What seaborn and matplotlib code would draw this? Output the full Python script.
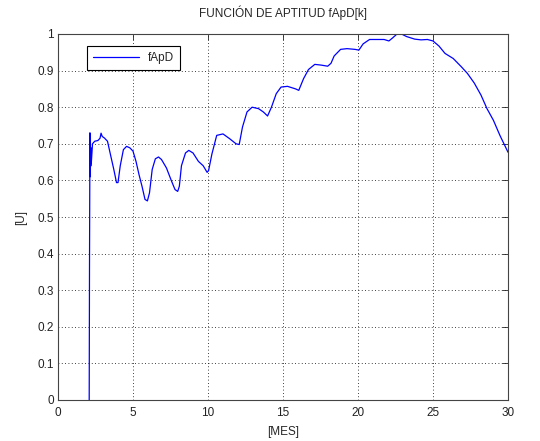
import matplotlib
matplotlib.use("Agg")
import matplotlib.pyplot as plt
import seaborn as sns
import pandas as pd

mes = [2.08, 2.10, 2.13, 2.15, 2.18, 2.21, 2.30, 2.45, 2.66, 2.80,
       2.87, 2.95, 3.09, 3.30, 3.50, 3.72, 3.90, 4.00, 4.15, 4.36,
       4.57, 4.79, 5.00, 5.20, 5.40, 5.60, 5.80, 5.96, 6.10, 6.28,
       6.49, 6.70, 6.90, 7.23, 7.55, 7.80, 7.98, 8.09, 8.23, 8.50,
       8.72, 9.00, 9.36, 9.68, 9.94, 10.04, 10.26, 10.58, 11.00, 11.44,
       11.87, 12.08, 12.30, 12.60, 12.94, 13.37, 13.69, 13.97, 14.23, 14.55,
       14.87, 15.30, 15.84, 16.05, 16.37, 16.70, 17.12, 17.55, 17.98, 18.20,
       18.41, 18.84, 19.27, 19.80, 20.06, 20.34, 20.77, 21.30, 21.74, 22.06,
       22.27, 22.60, 22.90, 23.24, 23.78, 24.20, 24.63, 25.00, 25.40, 25.80,
       26.35, 26.90, 27.30, 27.75, 28.20, 28.60, 29.03, 29.46, 29.79, 30.00]
fapd = [0, 0.36, 0.73, 0.61, 0.69, 0.64, 0.70, 0.707, 0.709, 0.715,
        0.729, 0.72, 0.716, 0.707, 0.67, 0.63, 0.594, 0.594, 0.64, 0.684,
        0.693, 0.689, 0.68, 0.652, 0.616, 0.584, 0.548, 0.544, 0.566, 0.63,
        0.659, 0.664, 0.657, 0.634, 0.60, 0.575, 0.57, 0.584, 0.64, 0.675,
        0.682, 0.675, 0.652, 0.64, 0.622, 0.627, 0.672, 0.723, 0.727, 0.714,
        0.70, 0.698, 0.746, 0.787, 0.80, 0.796, 0.787, 0.776, 0.80, 0.837,
        0.855, 0.857, 0.85, 0.846, 0.878, 0.903, 0.917, 0.915, 0.912, 0.92,
        0.94, 0.958, 0.96, 0.958, 0.956, 0.973, 0.985, 0.985, 0.985, 0.981,
        0.988, 1.0, 1.0, 0.993, 0.986, 0.984, 0.985, 0.981, 0.967, 0.947,
        0.933, 0.91, 0.892, 0.866, 0.833, 0.796, 0.764, 0.723, 0.695, 0.677]
xticks = [0, 5, 10, 15, 20, 25, 30]
yticks = [0, 0.1, 0.2, 0.3, 0.4, 0.5, 0.6, 0.7, 0.8, 0.9, 1]
ytick_labels = ["0", "0.1", "0.2", "0.3", "0.4", "0.5", "0.6", "0.7", "0.8", "0.9", "1"]

sns.set_style("white")
plt.rcParams["font.family"] = ["Liberation Sans", "DejaVu Sans"]
plt.rcParams["font.size"] = 8

df = pd.DataFrame({"MES": mes, "fApD": fapd})

fig = plt.figure(figsize=(5.4, 4.41), dpi=100)
fig.patch.set_facecolor("white")
ax = fig.add_axes([58/540, 1 - 400/441, 450/540, 366/441])
sns.lineplot(data=df, x="MES", y="fApD", estimator=None, sort=False,
             color="#0000ff", linewidth=0.9, label="fApD", ax=ax)

ax.set_xlim(0, 30)
ax.set_ylim(0, 1)
ax.set_xticks(xticks)
ax.set_xticklabels([str(t) for t in xticks])
ax.set_yticks(yticks)
ax.set_yticklabels(ytick_labels)
ax.grid(True, linestyle=(0, (1, 3)), color="black", linewidth=0.6)
ax.tick_params(direction="in", length=4, width=0.6, top=True, right=True,
               labelsize=8.5, colors="#222222")
ax.tick_params(axis="x", pad=5)
ax.tick_params(axis="y", pad=3)
for s in ax.spines.values():
    s.set_color("#444444")
    s.set_linewidth(0.8)
ax.set_xlabel("[MES]", fontsize=8.5, labelpad=5)
ax.set_ylabel("[U]", fontsize=8.5, labelpad=7)
ax.set_title("FUNCIÓN DE APTITUD fApD[k]", fontsize=8.5, pad=12)
leg = ax.legend(loc="upper left", bbox_to_anchor=(0.064, 0.967), borderaxespad=0,
                fancybox=False, edgecolor="black", framealpha=1, fontsize=8.5,
                handlelength=3.9, borderpad=0.5)
leg.get_frame().set_linewidth(0.8)

fig.savefig("out.png", dpi=100, facecolor="white")
